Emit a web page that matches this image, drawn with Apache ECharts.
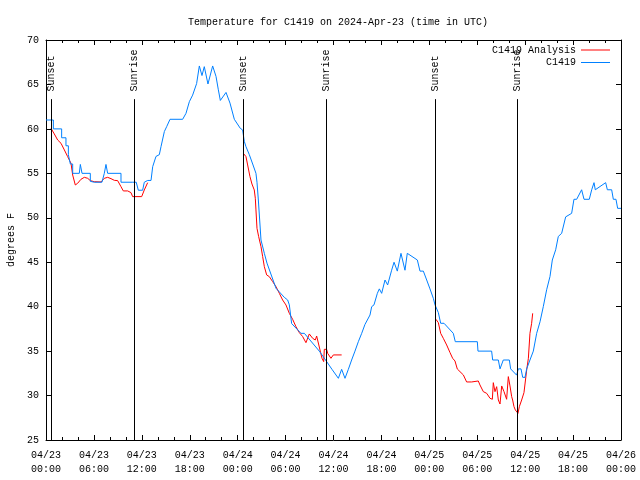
<!DOCTYPE html>
<html><head><meta charset="utf-8">
<script src="https://cdn.jsdelivr.net/npm/echarts@6/dist/echarts.min.js"></script>
<style>html,body{margin:0;padding:0;background:#fff}#c{width:640px;height:480px}</style>
</head><body><div id="c"></div>
<script>
const FONT = 'Liberation Mono';
const chartTitle = 'Temperature for C1419 on 2024-Apr-23 (time in UTC)';
const yAxisName = 'degrees F';
const xTickLabels = ['04/23\n00:00','04/23\n06:00','04/23\n12:00','04/23\n18:00','04/24\n00:00','04/24\n06:00','04/24\n12:00','04/24\n18:00','04/25\n00:00','04/25\n06:00','04/25\n12:00','04/25\n18:00','04/26\n00:00'];
const sunEventNames = ['Sunset','Sunrise','Sunset','Sunrise','Sunset','Sunrise'];
const sunEventHours = [0.65, 11.06, 24.71, 35.1, 48.75, 59.02];

// C1419 observations (hours since 04/23 00:00 UTC, degrees F)
const blueHours = [0,0.92,0.92,1.96,1.96,2.5,2.5,2.8,2.8,3.05,3.05,3.34,3.34,4.17,4.3,4.51,5.55,5.55,6.05,7.01,7.3,7.51,7.72,9.39,9.39,10.85,11.3,11.56,12.1,12.31,12.73,13.15,13.36,13.77,14.19,14.4,14.82,15.11,15.53,17.11,17.53,17.95,18.36,18.86,19.2,19.32,19.53,19.82,20.03,20.28,20.53,20.87,21.29,21.58,21.83,22.54,22.75,23.04,23.58,23.79,24.33,24.62,24.83,25.04,25.46,25.88,26.29,26.42,26.59,26.92,27.34,27.67,28.8,28.8,29.84,30.05,30.26,30.47,30.76,31.93,32.35,34.22,34.43,34.85,35.81,35.85,36.61,36.81,37.02,37.44,37.86,38.27,38.69,39.11,39.53,39.94,40.57,40.78,41.07,41.49,41.74,42.03,42.45,42.78,43.28,43.58,43.99,44.24,44.45,44.62,44.95,45.24,46.5,46.83,47.25,47.67,48.08,48.5,48.71,48.83,49.13,49.42,49.84,51.0,51.25,54.01,54.09,55.8,55.93,56.64,56.85,57.06,57.26,58.02,58.18,58.31,58.93,59.14,59.48,59.69,59.98,60.19,60.4,60.6,61.02,61.44,61.86,62.27,62.69,63.11,63.4,63.82,64.15,64.57,65.07,65.82,66.11,66.45,67.07,67.37,68.03,68.33,68.45,68.62,68.78,70.08,70.29,70.83,71.04,71.37,71.58,72];
const blueTemps = [61,61,60,60,59,59,58.1,58.1,57.1,57.1,56.05,56.05,55,55,56,55,55,54.1,54,54,55,56,55,55,54,54,54,53.1,53.1,54,54.2,54.2,55.75,56.9,57.1,58,59.7,60.25,61.08,61.08,61.75,63.06,63.8,65.1,67.08,67,66,67,67,65.05,65.05,67.08,65.9,64.4,63.2,64.1,64.1,62.9,61.08,61.08,60.06,59.88,58.6,58,57.1,56.05,55,54,52,47.5,46,44.9,42.07,42.07,41.05,41.05,40.75,40.2,38.1,37,37,35,35,34.2,32.95,32.95,31.94,31.94,32.95,31.94,32.95,34,35,36.06,37,38,39.06,40,40.2,41.5,42,41.5,43,42.44,44.1,45,44,44,46,46,44.1,46,45.25,44,44,43,42,40.94,40.2,40,39.33,38.13,38.13,37,36.06,36.06,35,35,34,34,33,33,34,34,33,33,32.3,33,33,32.05,32.05,33,33,34,35,37,38.3,40,41.9,43.4,45.25,46.4,47.9,48.25,50.1,50.5,52.08,52.08,53.15,52.08,52.08,53.15,53.15,53.95,53.15,53.95,53.15,53.15,52.08,52.08,51.06,51.06,50,50];

// C1419 Analysis (null = no value)
const redHours = [0.63,1.04,1.46,1.88,2.3,2.71,3.13,3.34,3.67,3.96,4.38,4.8,5.22,5.55,6.05,6.89,7.3,7.72,8.14,8.56,8.97,9.39,9.68,10.23,10.64,10.85,11.98,12.31,12.73,
  18,
  24.71,25.04,25.25,25.54,25.79,26.08,26.21,26.29,26.42,26.63,26.92,27.13,27.34,27.63,27.96,28.38,28.8,29.22,29.63,30.05,30.47,30.88,31.3,31.72,32.14,32.55,32.97,33.39,33.72,33.89,34.1,34.31,34.56,34.77,34.85,35.14,35.27,35.68,35.98,37.02,
  42,
  48.83,49.13,49.42,49.75,50.17,50.59,50.92,51.21,51.5,51.84,52.26,52.67,53.3,53.51,54.13,54.34,54.76,55.18,55.6,55.89,56.01,56.22,56.43,56.64,56.85,57.06,57.35,57.68,57.89,58.1,58.31,58.43,58.6,58.77,58.93,59.1,59.27,59.56,59.85,60.02,60.19,60.4,60.6,60.81,60.94];
const redTemps = [60.06,59.43,58.75,58.38,57.63,56.88,56.13,54.81,53.69,53.88,54.33,54.55,54.44,54.18,54.06,54.03,54.44,54.55,54.4,54.21,54.18,53.5,53.02,53.02,52.83,52.38,52.38,53.13,53.95,
  null,
  57.25,56.88,55.94,54.63,53.8,53.13,52.19,50.88,48.81,47.88,46.75,45.63,44.5,43.57,43.38,42.82,42.25,41.5,40.75,40.19,39.25,38.58,37.75,37.08,36.63,35.95,36.93,36.44,36.25,36.7,36.63,35.13,34.19,33.82,35.2,35.2,34.75,34.19,34.57,34.57,
  null,
  38.58,38.2,37,36.44,35.69,34.83,34.19,33.89,32.99,32.69,32.32,31.53,31.53,31.64,31.64,31.19,30.44,30.25,29.69,29.58,31.45,30.44,31,29.5,29.05,31.08,30.44,29.58,32.13,31.08,29.88,29.5,28.75,28.38,28.45,28,28.75,29.5,30.33,30.44,32.88,34.19,37,38.13,39.25];

const lineTopValue = 63.35;
const labelValue = 64.2;

const chart = echarts.init(document.getElementById('c'), null, {renderer: 'canvas'});
const txt = {fontFamily: FONT, fontSize: 10, color: '#000'};
function xAxisDef(pos, showLabel) {
  return {
    type: 'value', position: pos, min: 0, max: 72, interval: 6,
    axisLine: {show: true, onZero: false, lineStyle: {color: '#000', width: 1}},
    axisTick: {show: true, inside: true, length: 5, lineStyle: {color: '#000'}},
    minorTick: {show: true, splitNumber: 3, length: 3, lineStyle: {color: '#000'}},
    splitLine: {show: false}, minorSplitLine: {show: false},
    axisLabel: Object.assign({show: showLabel, margin: 8, lineHeight: 14,
      formatter: v => xTickLabels[Math.round(v / 6)]}, txt)
  };
}
function yAxisDef(pos, showLabel) {
  return {
    type: 'value', position: pos, min: 25, max: 70, interval: 5,
    axisLine: {show: true, onZero: false, lineStyle: {color: '#000', width: 1}},
    axisTick: {show: true, inside: true, length: 5, lineStyle: {color: '#000'}},
    splitLine: {show: false},
    axisLabel: Object.assign({show: showLabel, margin: 7}, txt)
  };
}
const yLeft = yAxisDef('left', true);
yLeft.name = yAxisName; yLeft.nameLocation = 'middle'; yLeft.nameGap = 30;
yLeft.nameTextStyle = Object.assign({}, txt);

const legendCommon = {orient: 'vertical', right: 30, align: 'right', icon: 'rect', itemWidth: 29, itemHeight: 1, textStyle: Object.assign({lineHeight: 12}, txt), selectedMode: false, padding: 0};

chart.setOption({
  animation: false,
  backgroundColor: '#fff',
  title: {text: chartTitle, left: 183, top: 12, textStyle: Object.assign({fontWeight: 'normal'}, txt)},
  grid: {left: 46, right: 19, top: 40, bottom: 40, containLabel: false, outerBoundsMode: 'none'},
  legend: [
    Object.assign({data: ['C1419 Analysis'], top: 44}, legendCommon),
    Object.assign({data: ['C1419'], top: 56.5}, legendCommon)
  ],
  xAxis: [xAxisDef('bottom', true), xAxisDef('top', false)],
  yAxis: [yLeft, yAxisDef('right', false)],
  series: [
    {
      name: 'sun', type: 'scatter', symbolSize: 1, silent: true,
      itemStyle: {color: 'rgba(255,255,255,0)'},
      data: sunEventHours.map((h, i) => ({value: [h, labelValue], name: sunEventNames[i]})),
      label: Object.assign({show: true, formatter: p => p.name, rotate: 90, position: 'inside', align: 'left', verticalAlign: 'middle', opacity: 1}, txt),
      markLine: {
        silent: true, symbol: ['none', 'none'], label: {show: false},
        lineStyle: {color: '#000', width: 1, type: 'solid'},
        emphasis: {disabled: true},
        data: sunEventHours.map(h => [{coord: [h, 25]}, {coord: [h, lineTopValue]}])
      }
    },
    {
      name: 'C1419 Analysis', type: 'line', symbol: 'none', connectNulls: false,
      lineStyle: {color: '#ff0000', width: 1}, itemStyle: {color: '#ff0000'},
      data: redHours.map((h, i) => [h, redTemps[i]])
    },
    {
      name: 'C1419', type: 'line', symbol: 'none',
      lineStyle: {color: '#0080ff', width: 1}, itemStyle: {color: '#0080ff'},
      data: blueHours.map((h, i) => [h, blueTemps[i]])
    }
  ]
});
</script>
</body></html>
